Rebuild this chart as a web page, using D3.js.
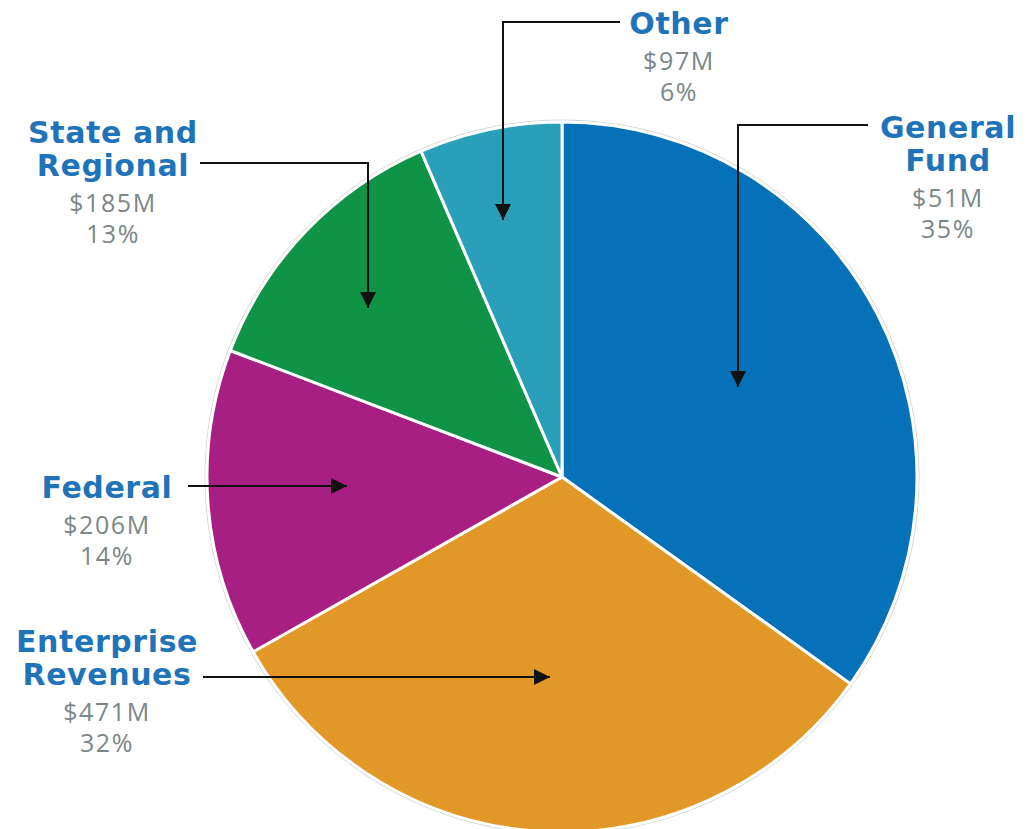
<!DOCTYPE html>
<html><head><meta charset="utf-8">
<script src="https://cdn.jsdelivr.net/npm/d3@7"></script>
<style>
html,body{margin:0;padding:0;background:#fff;}
svg{display:block;}
</style></head>
<body>
<svg id="chart" width="1029" height="829"></svg>
<script>
// Data
const categories = ["General Fund", "Enterprise Revenues", "Federal", "State and Regional", "Other"];
const titleLines = [["General", "Fund"], ["Enterprise", "Revenues"], ["Federal"], ["State and", "Regional"], ["Other"]];
const amountLabels = ["$51M", "$471M", "$206M", "$185M", "$97M"];
const percentLabels = ["35%", "32%", "14%", "13%", "6%"];
const sliceShare = [34.9, 31.9, 14.0, 12.7, 6.5];
const colors = ["#0571b8", "#e19826", "#a71f82", "#0f9447", "#2a9fba"];

// Layout for the labels/callouts
const labelLayout = [
  {x: 948, y: 138, path: [[868,125],[738,125],[738,387]]},
  {x: 107, y: 652, path: [[203,677],[550,677]]},
  {x: 107, y: 498, path: [[188,486],[347,486]]},
  {x: 113, y: 143, path: [[200,163],[368,163],[368,308]]},
  {x: 679, y: 34,  path: [[620,22],[503,22],[503,220]]}
];

const cx = 562, cy = 477, R = 355;
const svg = d3.select("#chart");

svg.append("defs").append("marker")
  .attr("id", "arrow").attr("viewBox", "0 0 10 10")
  .attr("refX", 10).attr("refY", 5)
  .attr("markerWidth", 16).attr("markerHeight", 16)
  .attr("markerUnits", "userSpaceOnUse")
  .attr("orient", "auto")
  .append("path").attr("d", "M0,0 L10,5 L0,10 Z").attr("fill", "#111");

const g = svg.append("g").attr("transform", `translate(${cx},${cy})`);

const pie = d3.pie().value(d => d).sort(null);
const arc = d3.arc().innerRadius(0).outerRadius(R);
const arcs = pie(sliceShare);

g.append("circle").attr("r", R + 2).attr("fill", "none").attr("stroke", "#d4d4d4").attr("stroke-width", 1);

g.selectAll("path.slice").data(arcs).join("path")
  .attr("class", "slice")
  .attr("d", arc)
  .attr("fill", (d, i) => colors[i])
  .attr("stroke", "#fff").attr("stroke-width", 3).attr("stroke-linejoin", "round");

const line = d3.line();
labelLayout.forEach((L, i) => {
  svg.append("path").attr("d", line(L.path))
    .attr("fill", "none").attr("stroke", "#111").attr("stroke-width", 2)
    .attr("marker-end", "url(#arrow)");

  const t = svg.append("g").attr("text-anchor", "middle");
  let y = L.y;
  titleLines[i].forEach((s, k) => {
    t.append("text").attr("x", L.x).attr("y", y)
      .attr("font-family", "'DejaVu Sans', sans-serif").attr("font-weight", 700)
      .attr("font-size", 30).attr("letter-spacing", "0.6").attr("fill", "#1f74b9")
      .text(s);
    y += 33;
  });
  y += 3;
  t.append("text").attr("x", L.x).attr("y", y)
    .attr("font-family", "'Open Sans', sans-serif").attr("font-size", 25).attr("fill", "#7b8787")
    .attr("letter-spacing", "1.6")
    .text(amountLabels[i]);
  t.append("text").attr("x", L.x).attr("y", y + 31)
    .attr("font-family", "'Open Sans', sans-serif").attr("font-size", 25).attr("fill", "#7b8787")
    .attr("letter-spacing", "1.6")
    .text(percentLabels[i]);
});
</script>
</body></html>
